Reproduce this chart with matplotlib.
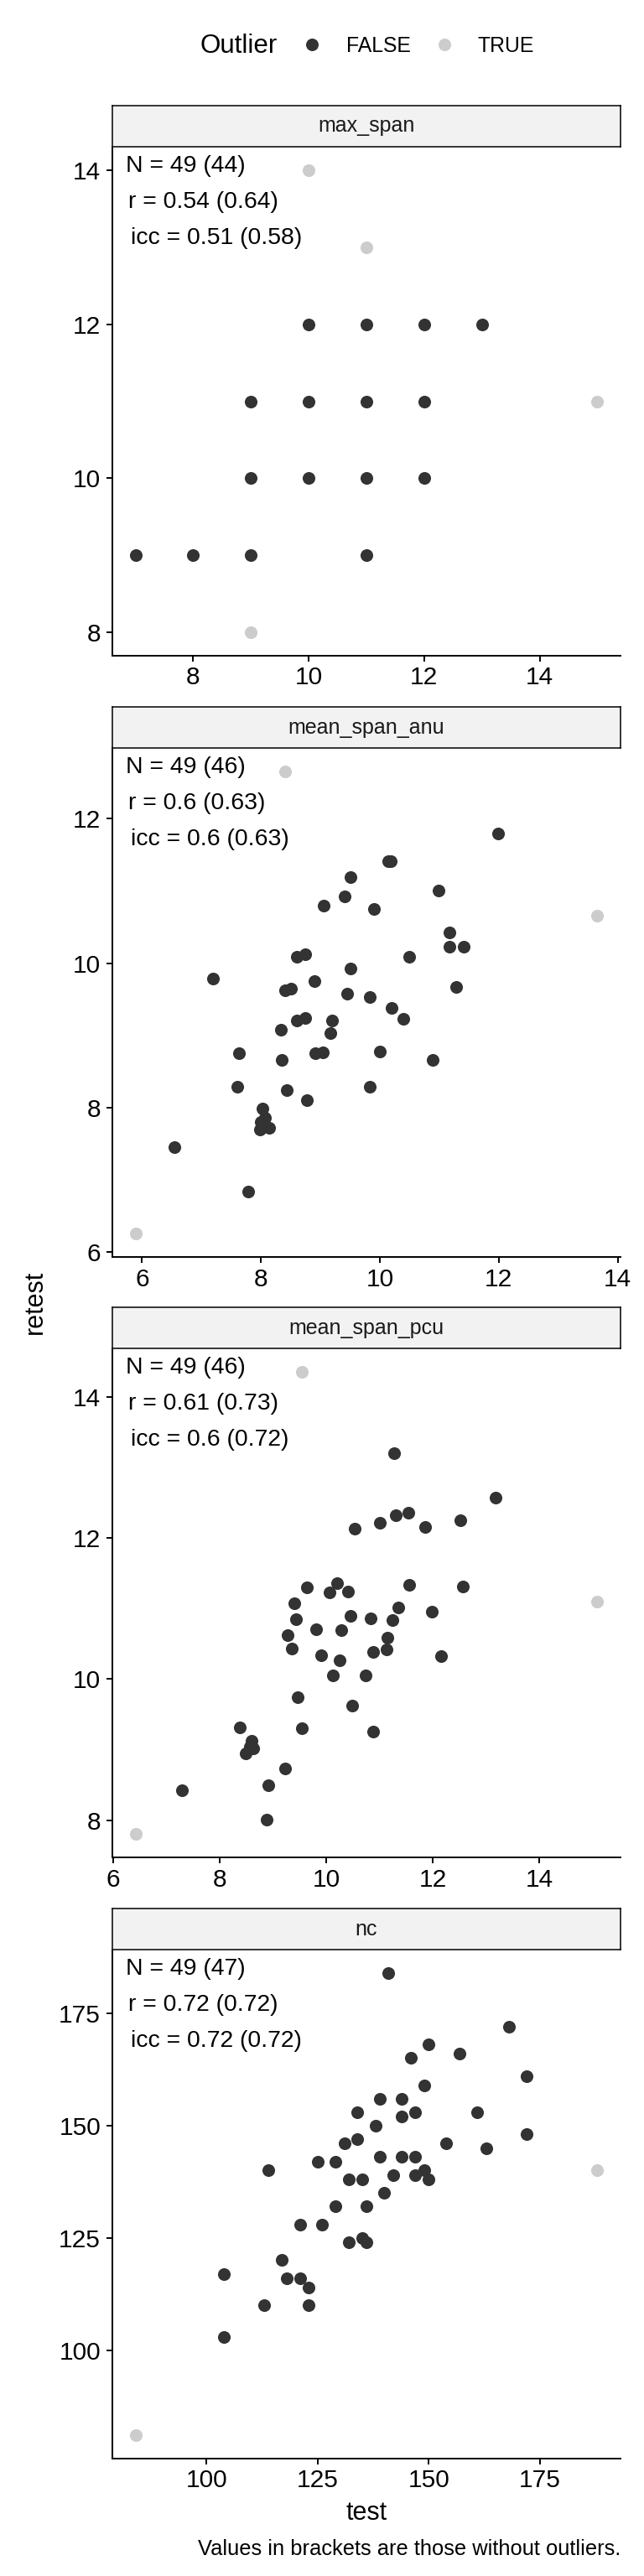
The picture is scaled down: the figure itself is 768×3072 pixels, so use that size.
import matplotlib
matplotlib.use("Agg")
import matplotlib.pyplot as plt
from matplotlib.lines import Line2D
from matplotlib.ticker import MultipleLocator

plt.rcParams['font.family'] = ['Liberation Sans', 'DejaVu Sans']

DARK = "#333333"
LIGHT = "#cccccc"

# ---- data ----
# max_span
max_span_test = [7, 8, 9, 11, 9, 10, 11, 12, 9, 10, 11, 12, 10, 11, 12, 13]
max_span_retest = [9, 9, 9, 9, 10, 10, 10, 10, 11, 11, 11, 11, 12, 12, 12, 12]
max_span_test_out = [10, 11, 15, 9]
max_span_retest_out = [14, 13, 11, 8]
max_span_stats = ["N = 49 (44)", "r = 0.54 (0.64)", "icc = 0.51 (0.58)"]

# mean_span_anu
anu_test = [11.99, 10.19, 10.14, 9.50, 10.99, 9.41, 9.06, 9.90, 11.17, 11.17,
            11.41, 10.50, 8.60, 8.74, 9.50, 7.20, 8.90, 8.40, 8.51, 11.29,
            9.45, 9.83, 10.20, 10.39, 8.61, 8.75, 9.20, 8.33, 9.17, 7.63,
            8.35, 8.92, 9.04, 10.00, 10.89, 7.60, 9.83, 8.43, 8.77, 8.03,
            8.07, 8.00, 8.14, 7.99, 6.55, 7.79]
anu_retest = [11.79, 11.41, 11.41, 11.19, 11.00, 10.92, 10.80, 10.75, 10.42, 10.23,
              10.23, 10.09, 10.09, 10.12, 9.92, 9.79, 9.75, 9.62, 9.65, 9.67,
              9.58, 9.53, 9.38, 9.23, 9.20, 9.24, 9.20, 9.08, 9.03, 8.75,
              8.66, 8.75, 8.76, 8.78, 8.66, 8.29, 8.29, 8.24, 8.10, 7.99,
              7.86, 7.80, 7.72, 7.70, 7.45, 6.83]
anu_test_out = [8.41, 13.66, 5.89]
anu_retest_out = [12.66, 10.66, 6.25]
anu_stats = ["N = 49 (46)", "r = 0.6 (0.63)", "icc = 0.6 (0.63)"]

# mean_span_pcu
pcu_test = [11.27, 13.18, 11.31, 11.54, 12.52, 11.01, 11.85, 10.54, 9.63, 10.20,
            10.07, 10.41, 11.55, 12.56, 9.40, 11.35, 9.44, 10.45, 10.83, 11.25,
            11.99, 9.81, 10.28, 9.27, 11.15, 9.36, 11.14, 10.88, 9.90, 12.16,
            10.25, 10.12, 10.74, 9.46, 10.49, 8.38, 9.54, 10.88, 8.60, 8.57,
            8.49, 9.23, 8.92, 7.30, 8.89, 8.63]
pcu_retest = [13.20, 12.57, 12.32, 12.36, 12.25, 12.22, 12.15, 12.13, 11.30, 11.36,
              11.23, 11.24, 11.33, 11.31, 11.07, 11.02, 10.85, 10.90, 10.86, 10.84,
              10.95, 10.71, 10.69, 10.62, 10.59, 10.43, 10.42, 10.38, 10.34, 10.33,
              10.27, 10.05, 10.05, 9.74, 9.62, 9.32, 9.30, 9.25, 9.12, 9.04,
              8.95, 8.73, 8.49, 8.42, 8.01, 9.02]
pcu_test_out = [9.55, 15.09, 6.42]
pcu_retest_out = [14.36, 11.10, 7.80]
pcu_stats = ["N = 49 (46)", "r = 0.61 (0.73)", "icc = 0.6 (0.72)"]

# nc
nc_test = [141, 168, 150, 157, 146, 172, 149, 139, 144, 134, 147, 161, 144, 138,
           172, 134, 131, 154, 163, 139, 144, 147, 125, 129, 114, 149, 142, 147,
           132, 135, 150, 140, 129, 136, 121, 126, 135, 132, 136, 117, 104, 118,
           121, 123, 113, 123, 104]
nc_retest = [184, 172, 168, 166, 165, 161, 159, 156, 156, 153, 153, 153, 152, 150,
             148, 147, 146, 146, 145, 143, 143, 143, 142, 142, 140, 140, 139, 139,
             138, 138, 138, 135, 132, 132, 128, 128, 125, 124, 124, 120, 117, 116,
             116, 114, 110, 110, 103]
nc_test_out = [84, 188]
nc_retest_out = [81, 140]
nc_stats = ["N = 49 (47)", "r = 0.72 (0.72)", "icc = 0.72 (0.72)"]

panels = [
    ("max_span", max_span_test, max_span_retest, max_span_test_out, max_span_retest_out, max_span_stats, 2),
    ("mean_span_anu", anu_test, anu_retest, anu_test_out, anu_retest_out, anu_stats, 2),
    ("mean_span_pcu", pcu_test, pcu_retest, pcu_test_out, pcu_retest_out, pcu_stats, 2),
    ("nc", nc_test, nc_retest, nc_test_out, nc_retest_out, nc_stats, 25),
]

W, H = 768, 3072
fig = plt.figure(figsize=(W / 100, H / 100), dpi=100)

left, width = 134, 606
panel_tops = [175, 892, 1608, 2325]
panel_h = 607
strip_h = 49
text_x = [0.026, 0.031, 0.036]

for (name, xt, yt, xo, yo, stats, step), top in zip(panels, panel_tops):
    ax = fig.add_axes([left / W, 1 - (top + panel_h) / H, width / W, panel_h / H])
    ax.scatter(xo, yo, s=118, color=LIGHT, linewidths=0, zorder=2)
    ax.scatter(xt, yt, s=118, color=DARK, linewidths=0, zorder=3)
    ax.xaxis.set_major_locator(MultipleLocator(step))
    ax.yaxis.set_major_locator(MultipleLocator(step))
    for side in ["top", "right"]:
        ax.spines[side].set_visible(False)
    for side in ["left", "bottom"]:
        ax.spines[side].set_linewidth(1.4)
        ax.spines[side].set_color("black")
    ax.tick_params(length=5, width=1.4, labelsize=21.5, colors="black")
    ax.tick_params(axis="x", pad=4)
    ax.tick_params(axis="y", pad=5)
    for i, line in enumerate(stats):
        ax.text(text_x[i], 0.962 - i * 0.0705, line, transform=ax.transAxes,
                fontsize=20.4, ha="left", va="center")

    strip = fig.add_axes([left / W, 1 - top / H, width / W, strip_h / H])
    strip.set_facecolor("#f2f2f2")
    strip.set_xticks([])
    strip.set_yticks([])
    for sp in strip.spines.values():
        sp.set_linewidth(1.1)
        sp.set_color("black")
    strip.text(0.5, 0.5, name, ha="center", va="center", fontsize=18,
               color="#1a1a1a", transform=strip.transAxes)

# axis titles and caption
fig.text(437 / W, 1 - 2997 / H, "test", ha="center", va="center", fontsize=22)
fig.text(42 / W, 1 - 1553 / H, "retest", ha="center", va="center",
         rotation=90, fontsize=22)
fig.text(740 / W, 1 - 3040 / H, "Values in brackets are those without outliers.",
         ha="right", va="center", fontsize=18.4)

# legend
fig.text(239 / W, 1 - 55 / H, "Outlier", ha="left", va="center", fontsize=22.5)
handles = [Line2D([], [], marker="o", ls="", color=DARK, markersize=10.8, markeredgewidth=0),
           Line2D([], [], marker="o", ls="", color=LIGHT, markersize=10.8, markeredgewidth=0)]
fig.legend(handles, ["FALSE", "TRUE"], ncol=2, frameon=False, loc="center left",
           bbox_to_anchor=(360 / W, 1 - 55 / H), handlelength=1.0,
           handletextpad=1.13, columnspacing=1.12, borderpad=0, borderaxespad=0,
           fontsize=17.8)

fig.savefig("out.png", dpi=100)
